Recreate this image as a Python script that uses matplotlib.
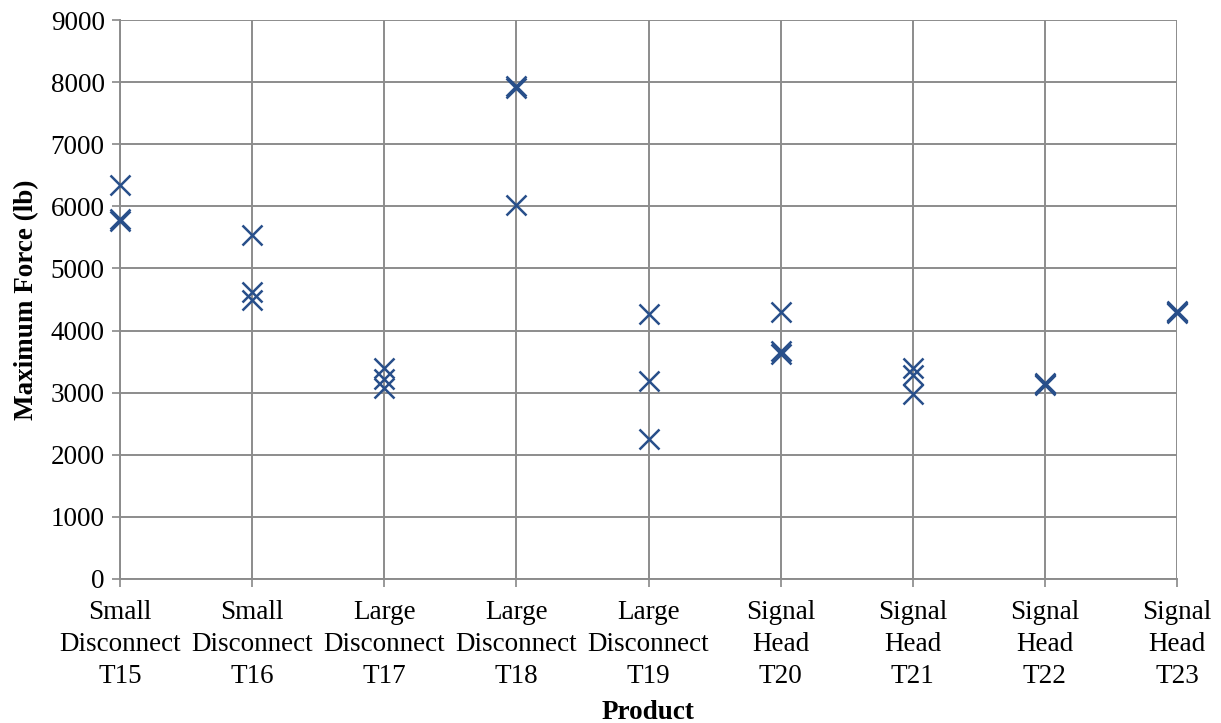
import matplotlib
matplotlib.use("Agg")
import matplotlib.pyplot as plt

categories = ["Small\nDisconnect\nT15", "Small\nDisconnect\nT16", "Large\nDisconnect\nT17",
              "Large\nDisconnect\nT18", "Large\nDisconnect\nT19", "Signal\nHead\nT20",
              "Signal\nHead\nT21", "Signal\nHead\nT22", "Signal\nHead\nT23"]
test1 = [6350, 5540, 3390, 7940, 4270, 4300, 3400, 3160, 4310]
test2 = [5790, 4620, 3220, 7900, 3190, 3670, 3280, 3120, 4290]
test3 = [5760, 4490, 3070, 6020, 2260, 3620, 2980, 3140, 4300]
yticks = [0, 1000, 2000, 3000, 4000, 5000, 6000, 7000, 8000, 9000]

plt.rcParams['font.family'] = ['Liberation Serif', 'DejaVu Serif']

fig = plt.figure(figsize=(12.21, 7.23), dpi=100)
ax = fig.add_axes([120/1221, 1 - 579/723, (1177-120)/1221, (579-20)/723])

x = list(range(len(categories)))
color = '#284F8A'
for series in (test1, test2, test3):
    ax.plot(x, series, linestyle='none', marker='x', markersize=14,
            markeredgewidth=1.8, color=color, clip_on=False, zorder=3)

fs = 19.5
ax.set_xlim(0, len(categories) - 1)
ax.set_ylim(0, 9000)
ax.set_yticks(yticks)
ax.set_xticks(x)
ax.set_xticklabels(categories, fontsize=fs, linespacing=1.38)
ax.tick_params(axis='y', labelsize=fs, direction='out', length=6, width=1.2, color='#888888', pad=5)
ax.tick_params(axis='x', direction='out', length=6, width=1.2, color='#888888', pad=9)
ax.grid(True, color='#8c8c8c', linewidth=1.4)
ax.set_axisbelow(True)
for side in ('top', 'right'):
    ax.spines[side].set_visible(False)
for side in ('left', 'bottom'):
    ax.spines[side].set_color('#8c8c8c')
    ax.spines[side].set_linewidth(1.4)

ax.set_ylabel("Maximum Force (lb)", fontsize=fs, fontweight='bold', labelpad=8)
ax.set_xlabel("Product", fontsize=fs, fontweight='bold', labelpad=7.5)

fig.savefig("out.png", dpi=100)
